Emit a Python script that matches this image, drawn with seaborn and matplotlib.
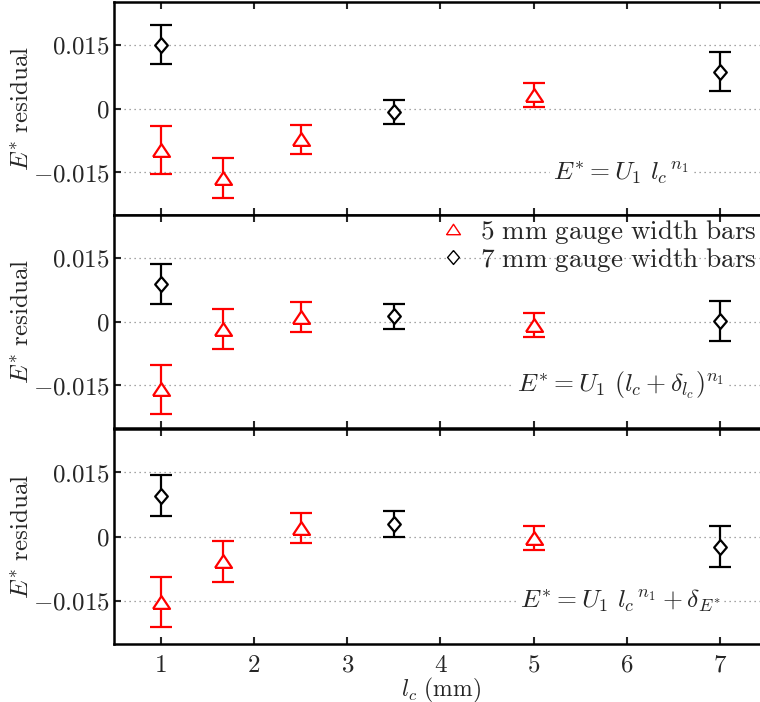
import numpy as np
import pandas as pd
import matplotlib
matplotlib.use("Agg")
import matplotlib.pyplot as plt
from matplotlib.lines import Line2D
import seaborn as sns

# ---------------- data ----------------
x_5mm = [1.0, 1.67, 2.5, 5.0]
x_7mm = [1.0, 3.5, 7.0]

top_5mm = [-0.0097, -0.0164, -0.0072, 0.0032]
top_5mm_err = [0.0057, 0.0047, 0.0034, 0.0029]
top_7mm = [0.0150, -0.0008, 0.0086]
top_7mm_err = [0.0046, 0.0029, 0.0046]

mid_5mm = [-0.0159, -0.0018, 0.0011, -0.0008]
mid_5mm_err = [0.0058, 0.0047, 0.0035, 0.0028]
mid_7mm = [0.0088, 0.0012, 0.0001]
mid_7mm_err = [0.0047, 0.0029, 0.0047]

bot_5mm = [-0.0153, -0.0058, 0.0019, -0.0004]
bot_5mm_err = [0.0058, 0.0048, 0.0035, 0.0028]
bot_7mm = [0.0095, 0.0030, -0.0024]
bot_7mm_err = [0.0047, 0.0030, 0.0048]

x_ticks = [1, 2, 3, 4, 5, 6, 7]
y_ticks = [-0.015, 0, 0.015]
y_tick_labels = [r"$-0.015$", r"$0$", r"$0.015$"]

formulas = [r"$E^{*} = U_1\ {l_c}^{\,n_1}$",
            r"$E^{*} = U_1\ (l_c + \delta_{l_c})^{n_1}$",
            r"$E^{*} = U_1\ {l_c}^{\,n_1} + \delta_{E^{*}}$"]
legend_labels = [r"$\mathrm{5\ mm\ gauge\ width\ bars}$",
                 r"$\mathrm{7\ mm\ gauge\ width\ bars}$"]
y_label = r"$E^{*}\ \mathrm{residual}$"
x_label = r"$l_c\ \mathrm{(mm)}$"

# ---------------- style ----------------
sns.set_style("ticks")
plt.rcParams["mathtext.fontset"] = "cm"
plt.rcParams["font.family"] = ["DejaVu Serif"]
FS = 18
plt.rcParams["font.size"] = FS

RED = (1.0, 0.0, 0.0)
BLACK = (0.0, 0.0, 0.0)
tri_marker = [(-1.0, -0.75), (1.0, -0.75), (0.0, 0.75), (-1.0, -0.75)]
dia_marker = [(0.0, 1.0), (0.85, 0.0), (0.0, -1.0), (-0.85, 0.0), (0.0, 1.0)]

fig = plt.figure(figsize=(7.6, 7.02), dpi=100)
W, H = 760.0, 702.0
left = 114 / W
width = 653 / W
panels_px = [(2, 215), (215, 428), (429, 644)]

panel_data = [
    (top_5mm, top_5mm_err, top_7mm, top_7mm_err),
    (mid_5mm, mid_5mm_err, mid_7mm, mid_7mm_err),
    (bot_5mm, bot_5mm_err, bot_7mm, bot_7mm_err),
]

axes = []
for i, ((t, b), (v5, e5, v7, e7)) in enumerate(zip(panels_px, panel_data)):
    ax = fig.add_axes([left, 1 - b / H, width, (b - t) / H])
    axes.append(ax)
    # error bars
    ax.errorbar(x_5mm, v5, yerr=e5, fmt="none", ecolor=RED, elinewidth=1.6,
                capsize=8, capthick=1.6, zorder=2)
    ax.errorbar(x_7mm, v7, yerr=e7, fmt="none", ecolor=BLACK, elinewidth=1.6,
                capsize=8, capthick=1.6, zorder=2)
    # markers
    df5 = pd.DataFrame({"lc": x_5mm, "res": v5})
    df7 = pd.DataFrame({"lc": x_7mm, "res": v7})
    sns.scatterplot(data=df5, x="lc", y="res", ax=ax, marker=tri_marker, s=150,
                    color="white", edgecolor=RED, linewidth=1.6, zorder=3, legend=False)
    sns.scatterplot(data=df7, x="lc", y="res", ax=ax, marker=dia_marker, s=115,
                    color="white", edgecolor=BLACK, linewidth=1.6, zorder=3, legend=False)

    ax.set_xlim(0.5, 7.5)
    ax.set_ylim(-0.025, 0.025)
    ax.set_xticks(x_ticks)
    ax.set_yticks(y_ticks)
    ax.set_yticklabels(y_tick_labels)
    ax.yaxis.grid(True, linestyle=(0, (1, 3)), color="#888888", linewidth=0.9)
    ax.xaxis.grid(False)
    ax.set_axisbelow(True)
    ax.tick_params(axis="both", direction="in", length=5, width=1.5,
                   top=True, right=False, labelsize=FS)
    ax.tick_params(axis="y", pad=3)
    ax.tick_params(axis="x", pad=7)
    for sp in ax.spines.values():
        sp.set_linewidth(1.8)
        sp.set_color("black")
    ax.set_xlabel("")
    ax.set_ylabel(y_label, fontsize=FS)
    ax.yaxis.set_label_coords(-(114 - 21) / 653, 0.5)
    ax.yaxis.label.set_va("center")
    if i < 2:
        ax.set_xticklabels([])
    else:
        ax.set_xticklabels([rf"${v}$" for v in x_ticks])
        ax.set_xlabel(x_label, fontsize=17)
        ax.xaxis.set_label_coords(0.5, -31.5 / 215)

    ax.text(5.93, -0.015, formulas[i], ha="center", va="center", fontsize=FS + 0.5,
            zorder=4, bbox=dict(facecolor="white", edgecolor="none", pad=2))

# legend in middle panel
handles = [
    Line2D([], [], linestyle="none", marker=tri_marker, markersize=10,
           markerfacecolor="white", markeredgecolor=RED, markeredgewidth=1.0),
    Line2D([], [], linestyle="none", marker=dia_marker, markersize=10,
           markerfacecolor="white", markeredgecolor=BLACK, markeredgewidth=1.0),
]
axes[1].legend(handles, legend_labels, loc="upper right", frameon=False,
               fontsize=19.5, bbox_to_anchor=((759 - 114) / 653, 1.0),
               borderaxespad=0.0, borderpad=0.1, handletextpad=0.5,
               handlelength=1.0, labelspacing=0.0)

fig.savefig("out.png", dpi=100)
